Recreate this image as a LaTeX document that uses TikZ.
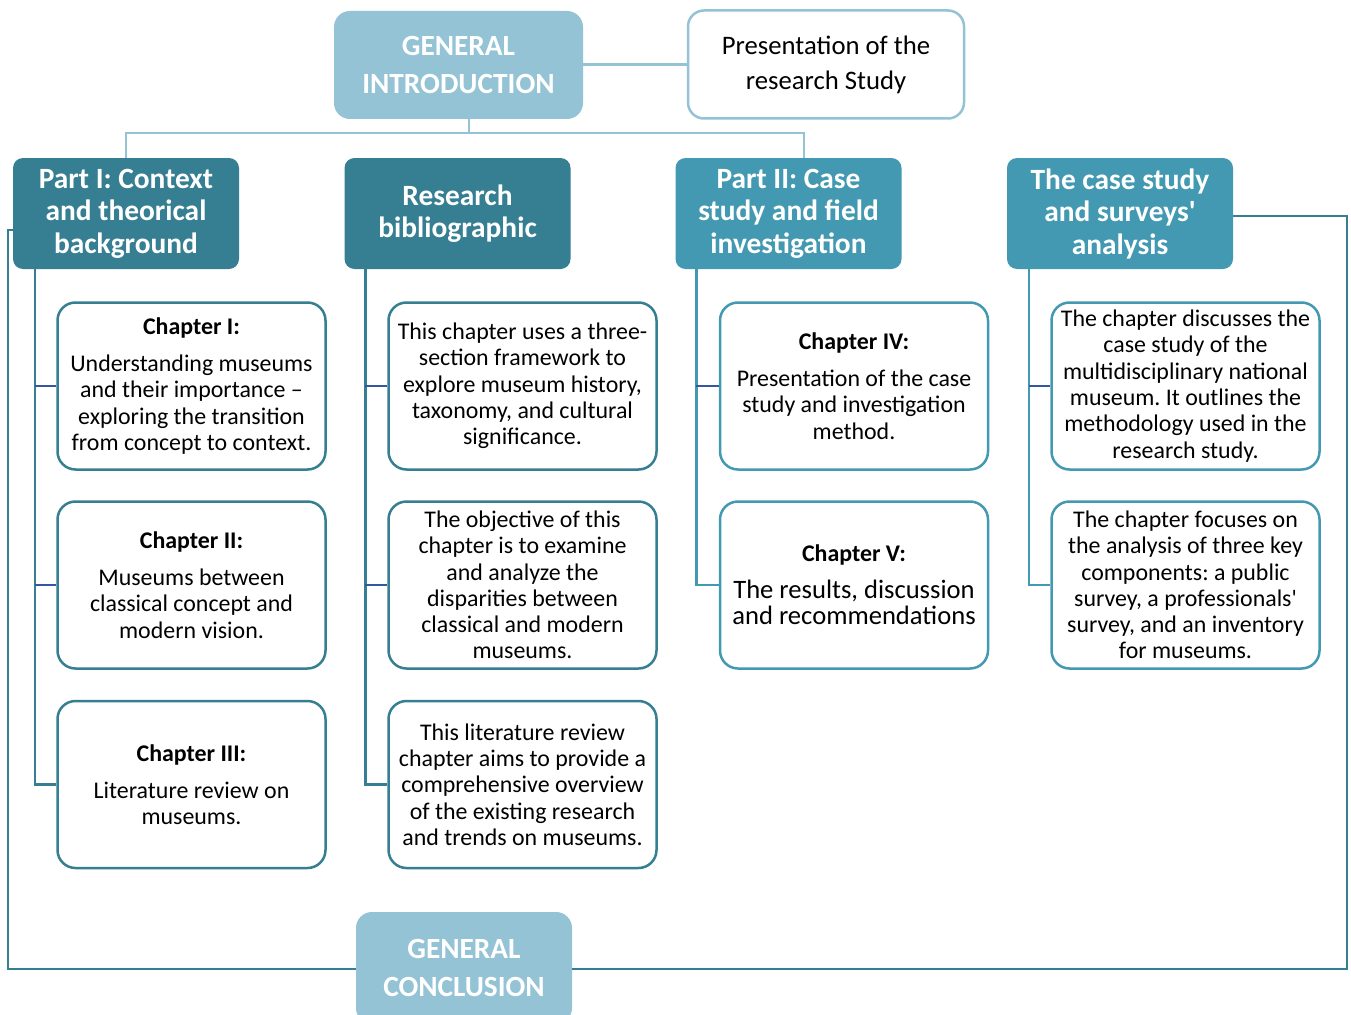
\documentclass[tikz,border=0pt]{standalone}
\usepackage{fontspec}
\setmainfont{Carlito}
\frenchspacing
\definecolor{lblue}{HTML}{94C3D5}
\definecolor{dteal}{HTML}{367F92}
\definecolor{mteal}{HTML}{4399B1}
\definecolor{tickblue}{HTML}{3557A3}
\newcommand{\bigbody}{\fontsize{26.6}{28.5}\selectfont}
\tikzset{
  topbox/.style={fill=lblue, rounded corners=16pt, text=white, align=center, inner sep=0pt,
    minimum width=249pt, minimum height=108pt, font=\fontsize{29.3}{38}\selectfont\bfseries},
  presbox/.style={draw=lblue, line width=2.5pt, fill=white, rounded corners=16pt, align=center,
    inner sep=0pt, minimum width=276pt, minimum height=108pt, font=\fontsize{26.7}{35}\selectfont},
  partbox/.style={rounded corners=10pt, text=white, align=center, inner sep=0pt,
    minimum width=226pt, minimum height=111pt, font=\fontsize{29.4}{32.5}\selectfont\bfseries},
  chapbox/.style={draw=#1, line width=2.5pt, fill=white, rounded corners=18pt, align=center,
    inner sep=0pt, minimum width=268pt, minimum height=167pt, font=\fontsize{23.9}{26.3}\selectfont},
  tline/.style={draw=lblue, line width=2.8pt},
  vline/.style={draw=dteal, line width=2.5pt},
  vlinel/.style={draw=mteal, line width=2.5pt},
  tick/.style={draw=tickblue, line width=2.5pt},
}
\begin{document}
\begin{tikzpicture}[x=1pt,y=-1pt]
\useasboundingbox[fill=white] (0,0) rectangle (1351,1014);

% top level
\node[topbox] (gi) at (458.5,65) {GENERAL\\INTRODUCTION};
\node[presbox] (pres) at (826,64.5) {Presentation of the\\research Study};

% parts
\node[partbox, fill=dteal] (p1) at (126,213.5) {Part I: Context\\and theorical\\background};
\node[partbox, fill=dteal] (rb) at (457.5,213.5) {Research\\bibliographic};
\node[partbox, fill=mteal] (p2) at (788.5,213.5) {Part II: Case\\study and field\\investigation};
\node[partbox, fill=mteal] (cs) at (1120,213.5) {The case study\\and surveys\textquotesingle\\analysis};

% column 1
\node[chapbox=dteal] (c11) at (191.5,386) {\textbf{Chapter I:}\\[11pt]Understanding museums\\and their importance --\\exploring the transition\\from concept to context.};
\node[chapbox=dteal] (c12) at (191.5,585) {\textbf{Chapter II:}\\[11pt]Museums between\\classical concept and\\modern vision.};
\node[chapbox=dteal] (c13) at (191.5,784.5) {\textbf{Chapter III:}\\[11pt]Literature review on\\museums.};

% column 2
\node[chapbox=dteal] (c21) at (522.5,386) {This chapter uses a three-\\section framework to\\explore museum history,\\taxonomy, and cultural\\significance.};
\node[chapbox=dteal] (c22) at (522.5,585) {The objective of this\\chapter is to examine\\and analyze the\\disparities between\\classical and modern\\museums.};
\node[chapbox=dteal] (c23) at (522.5,784.5) {This literature review\\chapter aims to provide a\\comprehensive overview\\of the existing research\\and trends on museums.};

% column 3
\node[chapbox=mteal] (c31) at (854,386) {\textbf{Chapter IV:}\\[11pt]Presentation of the case\\study and investigation\\method.};
\node[chapbox=mteal] (c32) at (854,585) {\textbf{Chapter V:}\\[10pt]\bigbody The results, discussion\\\bigbody and recommendations};

% column 4
\node[chapbox=mteal] (c41) at (1185.5,386) {The chapter discusses the\\case study of the\\multidisciplinary national\\museum. It outlines the\\methodology used in the\\research study.};
\node[chapbox=mteal] (c42) at (1185.5,585) {The chapter focuses on\\the analysis of three key\\components: a public\\survey, a professionals\textquotesingle\\survey, and an inventory\\for museums.};

% conclusion
\node[topbox, minimum width=216pt, minimum height=112pt] (gc) at (464,968) {GENERAL\\CONCLUSION};

% top connectors
\draw[tline] (gi.east |- pres.west) -- (pres.west);
\coordinate (tj) at (469,133);
\draw[tline] (gi.south -| tj) -- (tj);
\draw[tline] (p1.north) |- (tj) -| ([xshift=15.5pt]p2.north);

% column brackets
\coordinate (v1) at ([xshift=22pt]p1.south west);
\coordinate (v2) at ([xshift=21pt]rb.south west);
\coordinate (v3) at ([xshift=21pt]p2.south west);
\coordinate (v4) at ([xshift=22pt]cs.south west);

\draw[vline] (v1) |- (c13.west);
\draw[tick] (c11.west) -- (c11.west -| v1);
\draw[tick] (c12.west) -- (c12.west -| v1);

\draw[vline] (v2) |- (c23.west);
\draw[tick] (c21.west) -- (c21.west -| v2);
\draw[tick] (c22.west) -- (c22.west -| v2);

\draw[vlinel] (v3) |- (c32.west);
\draw[tick] (c31.west) -- (c31.west -| v3);

\draw[vlinel] (v4) |- (c42.west);
\draw[tick] (c41.west) -- (c41.west -| v4);

% outer loop to conclusion
\draw[vline] ([yshift=-16.5pt]p1.west) -- ++(-5,0) |- ([yshift=-1pt]gc.west);
\draw[vline] ([yshift=-2.5pt]cs.east) -- ++(114,0) |- ([yshift=-1pt]gc.east);
\end{tikzpicture}
\end{document}
